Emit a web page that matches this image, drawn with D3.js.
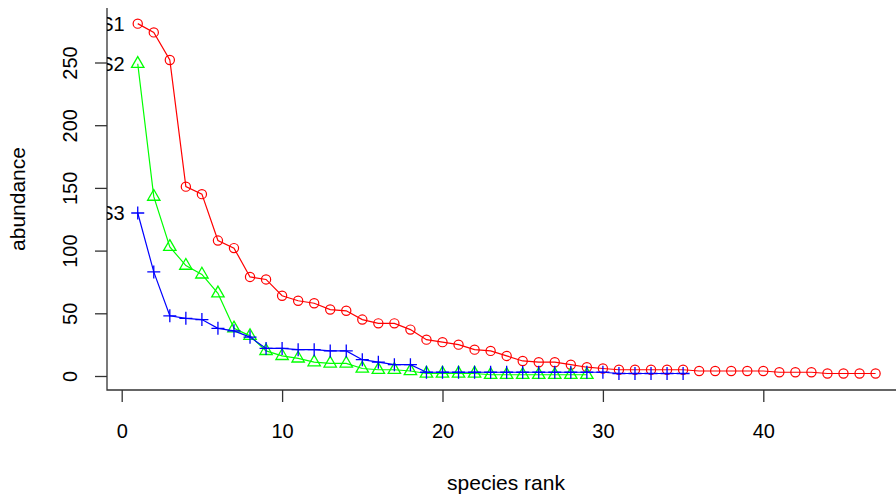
<!DOCTYPE html>
<html>
<head>
<meta charset="utf-8">
<script src="https://cdn.jsdelivr.net/npm/d3@7"></script>
<style>
  body { margin: 0; background: #fff; }
  svg { display: block; }
  text { font-family: "Liberation Sans", Arial, sans-serif; fill: #000; }
</style>
</head>
<body>
<svg id="chart" width="896" height="494"></svg>
<script>
// Rank-abundance values for three samples (abundance of the i-th most common species)
const abundanceS1 = [281, 274, 252, 151, 145, 108, 102, 79, 77, 64,
                     60, 58, 53, 52, 45, 42, 42, 37, 29, 27,
                     25, 21, 20, 16, 12, 11, 11, 9, 7, 6,
                     5, 5, 5, 5, 5, 4, 4, 4, 4, 4,
                     3, 3, 3, 2, 2, 2, 2];
const abundanceS2 = [249, 143, 103, 88, 81, 66, 38, 32, 20, 16,
                     14, 11, 10, 10, 6, 5, 5, 4, 2, 2,
                     2, 2, 1, 1, 1, 1, 1, 1, 1];
const abundanceS3 = [130, 83, 48, 46, 45, 38, 36, 31, 22, 22,
                     21, 21, 20, 20, 13, 11, 9, 9, 3, 3,
                     3, 3, 3, 3, 3, 3, 3, 3, 3, 3,
                     2, 2, 2, 2, 2];
const sampleNames = ["S1", "S2", "S3"];
const sampleColors = ["#ff0000", "#00ff00", "#0000ff"];
const sampleSymbols = ["circle", "triangle", "plus"];
const xTicks = [0, 10, 20, 30, 40];
const yTicks = [0, 50, 100, 150, 200, 250];
const xTitle = "species rank";
const yTitle = "abundance";

const series = [abundanceS1, abundanceS2, abundanceS3].map((vals, i) => ({
  name: sampleNames[i],
  color: sampleColors[i],
  symbol: sampleSymbols[i],
  points: vals.map((v, j) => ({ rank: j + 1, value: v }))
}));

const svg = d3.select("#chart");
const plot = { left: 107, right: 896, top: 8, bottom: 390 };

const x = d3.scaleLinear().domain([0, 40]).range([121.7, 763.3]);
const y = d3.scaleLinear().domain([0, 250]).range([376, 62.5]);

svg.append("defs").append("clipPath").attr("id", "plotClip")
  .append("rect")
  .attr("x", plot.left).attr("y", plot.top)
  .attr("width", plot.right - plot.left).attr("height", plot.bottom - plot.top);

// L-shaped frame
svg.append("path")
  .attr("d", `M${plot.left},${plot.top}V${plot.bottom}H${plot.right}`)
  .attr("fill", "none").attr("stroke", "#333").attr("stroke-width", 1.3);

// Y axis with rotated tick labels
const yAxis = svg.append("g")
  .attr("transform", `translate(${plot.left},0)`)
  .call(d3.axisLeft(y).tickValues(yTicks).tickSize(12).tickSizeOuter(0).tickFormat(d3.format("d")));
yAxis.select(".domain").remove();
yAxis.selectAll(".tick line").attr("stroke", "#333").attr("stroke-width", 1.3);
yAxis.selectAll(".tick text")
  .attr("x", null).attr("dy", null)
  .attr("transform", "translate(-37,0) rotate(-90)")
  .attr("text-anchor", "middle")
  .attr("dominant-baseline", "central")
  .style("font-size", "20px").style("font-family", "'Liberation Sans', Arial, sans-serif");

// X axis
const xAxis = svg.append("g")
  .attr("transform", `translate(0,${plot.bottom})`)
  .call(d3.axisBottom(x).tickValues(xTicks).tickSize(12).tickSizeOuter(0).tickFormat(d3.format("d")));
xAxis.select(".domain").remove();
xAxis.selectAll(".tick line").attr("stroke", "#333").attr("stroke-width", 1.3);
xAxis.selectAll(".tick text")
  .attr("y", 48).attr("dy", null)
  .style("font-size", "20px").style("font-family", "'Liberation Sans', Arial, sans-serif");

// Axis titles
svg.append("text")
  .attr("x", (plot.left + 905) / 2).attr("y", 490)
  .attr("text-anchor", "middle")
  .style("font-size", "21px")
  .text(xTitle);
svg.append("text")
  .attr("transform", `translate(17,${(plot.top + plot.bottom) / 2}) rotate(-90)`)
  .attr("text-anchor", "middle")
  .attr("dominant-baseline", "central")
  .style("font-size", "21px")
  .text(yTitle);

// Series: connecting lines with point symbols drawn over them
const u = 4.6;
const symbolPath = {
  circle: null,
  triangle: `M0,${-1.555 * u}L${1.347 * u},${0.778 * u}L${-1.347 * u},${0.778 * u}Z`,
  plus: `M${-1.414 * u},0H${1.414 * u}M0,${-1.414 * u}V${1.414 * u}`
};

const data = svg.append("g").attr("clip-path", "url(#plotClip)");
const line = d3.line().x(d => x(d.rank)).y(d => y(d.value));

series.forEach(s => {
  const g = data.append("g");
  g.append("path")
    .attr("d", line(s.points))
    .attr("fill", "none").attr("stroke", s.color).attr("stroke-width", 1.2);
  if (s.symbol === "circle") {
    g.selectAll("circle").data(s.points).join("circle")
      .attr("cx", d => x(d.rank)).attr("cy", d => y(d.value)).attr("r", u)
      .attr("fill", "none").attr("stroke", s.color).attr("stroke-width", 1.2);
  } else {
    g.selectAll("path.sym").data(s.points).join("path")
      .attr("class", "sym")
      .attr("transform", d => `translate(${x(d.rank)},${y(d.value)})`)
      .attr("d", symbolPath[s.symbol])
      .attr("fill", "none").attr("stroke", s.color).attr("stroke-width", 1.3);
  }
  // sample name to the left of its first point
  const first = s.points[0];
  g.append("text")
    .attr("x", x(first.rank) - 13).attr("y", y(first.value))
    .attr("text-anchor", "end").attr("dominant-baseline", "central")
    .style("font-size", "20px")
    .text(s.name);
});
</script>
</body>
</html>
